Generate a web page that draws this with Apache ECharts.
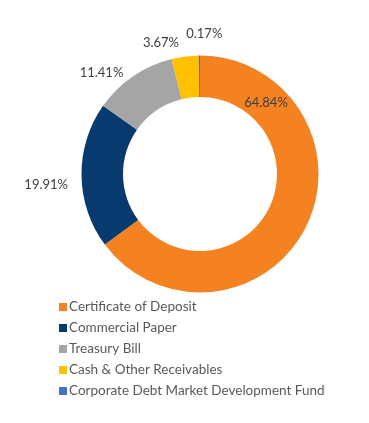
<!DOCTYPE html>
<html>
<head>
<meta charset="utf-8">
<script src="https://cdn.jsdelivr.net/npm/echarts@6/dist/echarts.min.js"></script>
<style>
html,body{margin:0;padding:0;background:#fff;}
#c{width:369px;height:423px;}
</style>
</head>
<body>
<div id="c"></div>
<script>
const categories = ['Certificate of Deposit', 'Commercial Paper', 'Treasury Bill', 'Cash & Other Receivables', 'Corporate Debt Market Development Fund'];
const values = [64.84, 19.91, 11.41, 3.67, 0.17];
const valueLabels = ['64.84%', '19.91%', '11.41%', '3.67%', '0.17%'];
const colors = ['#F58220', '#073A6E', '#A5A5A5', '#FFC000', '#4472C4'];

// label nudges (styling only)
const labelNudge = [[-24, -116], [0, 9], [0, 4], [0, -5], [28, -13]];

const chart = echarts.init(document.getElementById('c'), null, {renderer: 'canvas'});
chart.setOption({
  animation: false,
  color: colors,
  legend: {
    orient: 'vertical',
    left: 54,
    top: 295,
    icon: 'rect',
    itemWidth: 8,
    itemHeight: 8,
    itemGap: 7,
    selectedMode: false,
    textStyle: {fontFamily: 'Lato', fontSize: 13.5, color: '#595959', padding: [0,0,0,-3]},
    data: categories
  },
  series: [{
    type: 'pie',
    center: [200, 174],
    radius: [77, 118.5],
    startAngle: 90,
    clockwise: true,
    avoidLabelOverlap: false,
    label: {
      show: true,
      position: 'outside',
      fontFamily: 'Lato',
      fontSize: 13,
      color: '#404040',
      formatter: p => valueLabels[p.dataIndex]
    },
    labelLine: {show: false, length: 8.5, length2: 0},
    labelLayout: p => ({dx: labelNudge[p.dataIndex][0], dy: labelNudge[p.dataIndex][1]}),
    itemStyle: {borderColor: '#fff', borderWidth: 0},
    emphasis: {disabled: true},
    data: categories.map((n, i) => ({
      name: n,
      value: values[i],
      label: i === 0 ? {position: 'inside'} : undefined
    }))
  }]
});
</script>
</body>
</html>
